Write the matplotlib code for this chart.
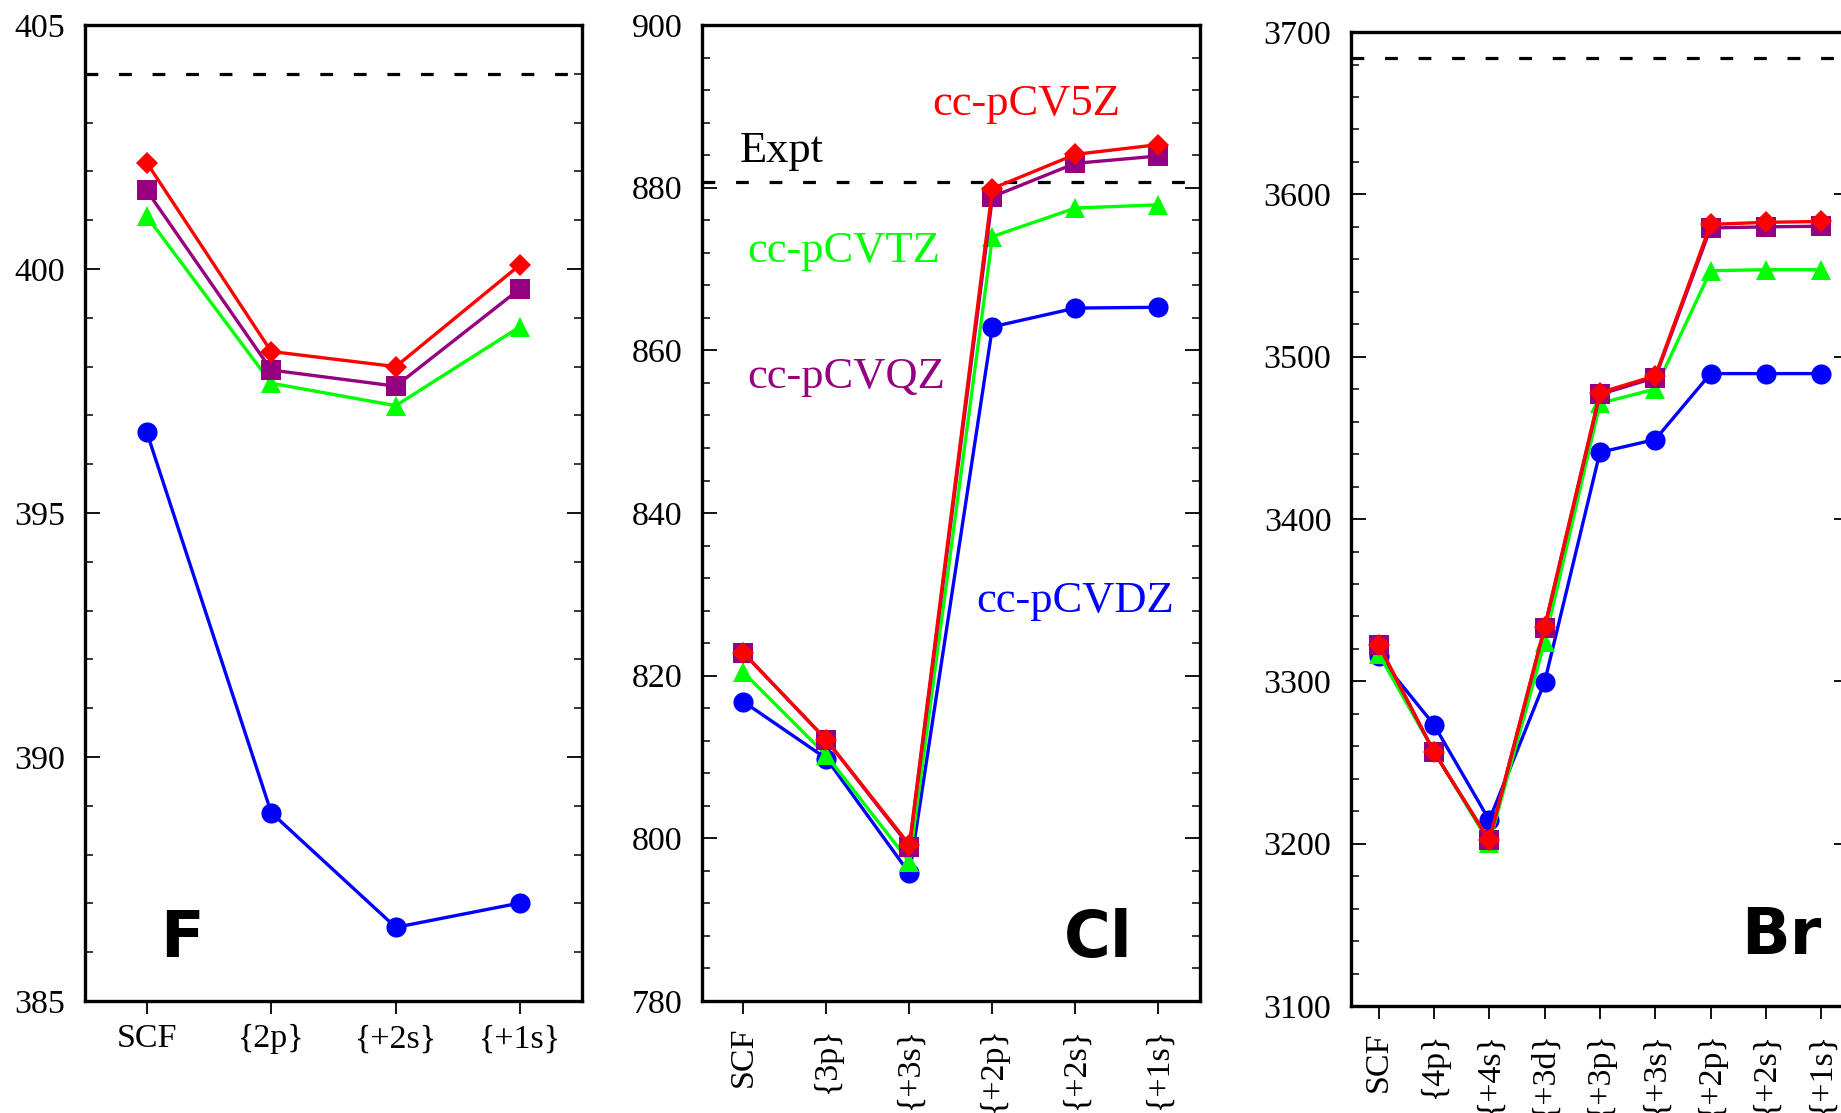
import matplotlib
matplotlib.use("Agg")
import matplotlib.pyplot as plt
from matplotlib.ticker import MultipleLocator

plt.rcParams["font.family"] = ["Liberation Serif", "DejaVu Serif"]

# basis-set colours / markers (DZ, TZ, QZ, 5Z)
SERIES_NAMES = ["cc-pCVDZ", "cc-pCVTZ", "cc-pCVQZ", "cc-pCV5Z"]
SERIES_COLORS = ["#0000ff", "#00ff00", "#940080", "#ff0000"]
SERIES_MARKERS = ["o", "^", "s", "D"]
SERIES_MSIZE = [14.5, 14.5, 14.5, 11]

# F panel
F_LABELS = ["SCF", "{2p}", "{+2s}", "{+1s}"]
F_DZ = [396.66, 388.86, 386.51, 387.01]
F_TZ = [401.08, 397.66, 397.20, 398.82]
F_QZ = [401.61, 397.93, 397.60, 399.60]
F_5Z = [402.18, 398.31, 398.00, 400.09]
F_EXPT = 404.0

# Cl panel
CL_LABELS = ["SCF", "{3p}", "{+3s}", "{+2p}", "{+2s}", "{+1s}"]
CL_DZ = [816.8, 809.8, 795.7, 862.9, 865.2, 865.3]
CL_TZ = [820.4, 810.2, 797.1, 874.0, 877.5, 877.9]
CL_QZ = [822.8, 812.1, 799.0, 878.9, 883.0, 883.9]
CL_5Z = [822.8, 812.1, 799.2, 879.9, 884.1, 885.3]
CL_EXPT = 880.75

# Br panel
BR_LABELS = ["SCF", "{4p}", "{+4s}", "{+3d}", "{+3p}", "{+3s}",
             "{+2p}", "{+2s}", "{+1s}"]
BR_DZ = [3315.4, 3273.3, 3214.5, 3299.5, 3441.1, 3449.0, 3489.6, 3489.6, 3489.6]
BR_TZ = [3317.0, 3257.0, 3200.5, 3324.2, 3471.3, 3480.1, 3553.0, 3553.6, 3553.6]
BR_QZ = [3322.6, 3256.6, 3202.0, 3332.8, 3476.8, 3487.1, 3579.3, 3580.0, 3580.4]
BR_5Z = [3322.6, 3256.6, 3202.0, 3333.5, 3477.9, 3488.2, 3581.5, 3582.8, 3583.3]
BR_EXPT = 3684.2

TICK_FS = 24.5
NOTE_FS = 32


def draw_panel(ax, labels, series, expt, ylim, major, minor, element,
               elem_xy, rotate_labels):
    x = list(range(len(labels)))
    ax.axhline(expt, color="black", lw=2.3, dashes=(4, 6.5), zorder=1)
    for vals, color, marker, ms in zip(series, SERIES_COLORS,
                                        SERIES_MARKERS, SERIES_MSIZE):
        ax.plot(x, vals, color=color, lw=2.4, marker=marker, ms=ms,
                mfc=color, mec=color, mew=0, zorder=3)

    ax.set_xlim(-0.5, len(labels) - 0.5)
    ax.set_ylim(*ylim)
    ax.yaxis.set_major_locator(MultipleLocator(major))
    ax.yaxis.set_minor_locator(MultipleLocator(minor))
    ax.set_xticks(x)
    ax.set_xticklabels(labels, rotation=90 if rotate_labels else 0)

    ax.tick_params(axis="both", which="both", labelsize=TICK_FS)
    ax.tick_params(axis="y", which="both", direction="in", left=True,
                   right=True, pad=14)
    ax.tick_params(axis="y", which="major", length=11, width=1.3)
    ax.tick_params(axis="y", which="minor", length=5.5, width=1.1)
    ax.tick_params(axis="x", which="major", direction="out", length=9.5,
                   width=1.3, top=False, pad=9 if rotate_labels else 7)
    ax.tick_params(axis="x", which="minor", bottom=False, top=False)
    for sp in ax.spines.values():
        sp.set_linewidth(2.4)

    ax.text(elem_xy[0], elem_xy[1], element, transform=ax.transAxes,
            ha="center", va="center", fontsize=46, fontweight="bold",
            fontfamily="DejaVu Sans", color="black")


fig = plt.figure(figsize=(18.41, 11.13), dpi=100)

ax_f = fig.add_axes([0.0459, 0.1006, 0.2705, 0.8769])
draw_panel(ax_f, F_LABELS, [F_DZ, F_TZ, F_QZ, F_5Z], F_EXPT, (385, 405),
           5, 1, "F", (0.195, 0.064), False)

ax_cl = fig.add_axes([0.3813, 0.1006, 0.2705, 0.8769])
draw_panel(ax_cl, CL_LABELS, [CL_DZ, CL_TZ, CL_QZ, CL_5Z], CL_EXPT,
           (780, 900), 20, 4, "Cl", (0.795, 0.064), True)

ax_br = fig.add_axes([0.7338, 0.0961, 0.2705, 0.8751])
draw_panel(ax_br, BR_LABELS, [BR_DZ, BR_TZ, BR_QZ, BR_5Z], BR_EXPT,
           (3100, 3700), 100, 20, "Br", (0.865, 0.072), True)

# series annotations in the Cl panel
ax_cl.text(-0.05, 883.2, "Expt", color="black", fontsize=NOTE_FS,
           ha="left", va="baseline")
ax_cl.text(2.28, 888.9, SERIES_NAMES[3], color=SERIES_COLORS[3],
           fontsize=NOTE_FS, ha="left", va="baseline")
ax_cl.text(0.04, 870.9, SERIES_NAMES[1], color=SERIES_COLORS[1],
           fontsize=NOTE_FS, ha="left", va="baseline")
ax_cl.text(0.04, 855.4, SERIES_NAMES[2], color=SERIES_COLORS[2],
           fontsize=NOTE_FS, ha="left", va="baseline")
ax_cl.text(2.81, 827.8, SERIES_NAMES[0], color=SERIES_COLORS[0],
           fontsize=NOTE_FS, ha="left", va="baseline")

fig.savefig("out.png", dpi=100)
